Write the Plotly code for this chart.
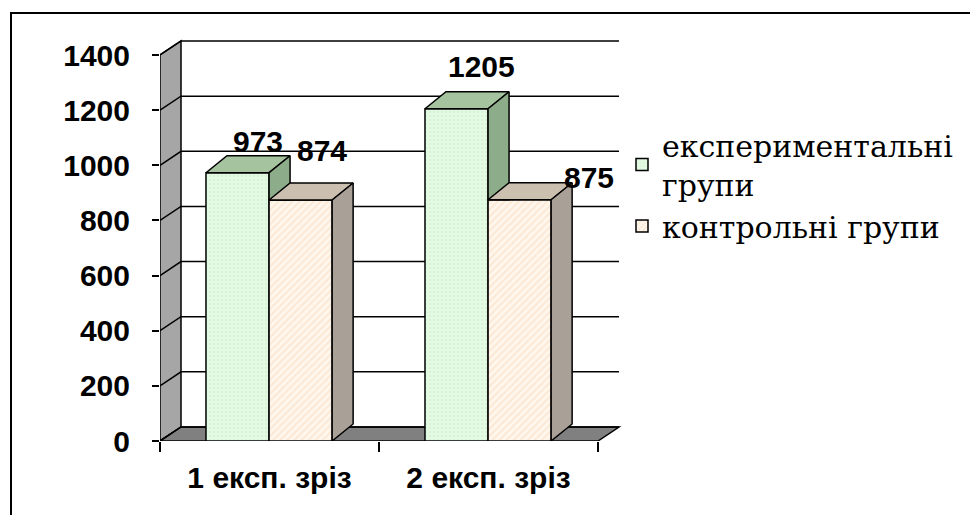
import plotly.graph_objects as go

# --- data -------------------------------------------------------------
categories = ["1 експ. зріз", "2 експ. зріз"]
series_names = ["експериментальні<br>групи", "контрольні групи"]
exp_values = [973, 1205]
ctrl_values = [874, 875]
y_ticks = [0, 200, 400, 600, 800, 1000, 1200, 1400]

# --- layout geometry (pixels) -----------------------------------------
FIG_W, FIG_H = 970, 515
PLOT_L, PLOT_R, PLOT_T, PLOT_B = 160, 630, 30, 441
CAT_PX = 219              # pixels per category slot
VAL_PX = 386 / 1400       # pixels per value unit

x_max = (PLOT_R - PLOT_L) / CAT_PX
y_max = (PLOT_B - PLOT_T) / VAL_PX

# depth of the pseudo-3D walls and bars, converted to data units
WALL_DX, WALL_DY = 21 / CAT_PX, 14 / VAL_PX
BAR_DX, BAR_DY = 21 / CAT_PX, 17 / VAL_PX

n_cat = len(categories)
centers = [i + 0.5 for i in range(n_cat)]
BAR_W = 0.288
EXP_OFF = -0.29
CTRL_OFF = EXP_OFF + BAR_W

EXP_FACE, EXP_DOTS, EXP_TOP, EXP_SIDE = "#E3FAE3", "#C9ECC9", "#A6C3A0", "#8DAC8A"
CTRL_FACE, CTRL_HATCH, CTRL_TOP, CTRL_SIDE = "#FFF6EC", "#F6D9BC", "#CBBFAF", "#A9A097"
EDGE = "black"
SANS = "Arial"
SERIF = "DejaVu Serif"


def px_to_paper_x(px):
    return (px - PLOT_L) / (PLOT_R - PLOT_L)


def px_to_paper_y(py):
    return (PLOT_B - py) / (PLOT_B - PLOT_T)


def poly_path(points):
    return "M " + " L ".join(f"{x},{y}" for x, y in points) + " Z"


fig = go.Figure()

# --- walls, floor and gridlines (beneath the bars) ----------------------
top = y_ticks[-1]
shapes = [
    dict(type="path", xref="x", yref="y", layer="below",
         path=poly_path([(0, 0), (0, top), (WALL_DX, top + WALL_DY), (WALL_DX, WALL_DY)]),
         fillcolor="#A6A6A6", line=dict(color=EDGE, width=1.5)),
    dict(type="path", xref="x", yref="y", layer="below",
         path=poly_path([(0, 0), (n_cat, 0), (n_cat + WALL_DX, WALL_DY), (WALL_DX, WALL_DY)]),
         fillcolor="#808080", line=dict(color=EDGE, width=1.5)),
]
for v in y_ticks:
    shapes.append(dict(
        type="path", xref="x", yref="y", layer="below",
        path=f"M 0,{v} L {WALL_DX},{v + WALL_DY} L {n_cat + WALL_DX},{v + WALL_DY}",
        line=dict(color=EDGE, width=1.5)))

# outer frame of the slide area
shapes.append(dict(type="rect", xref="paper", yref="paper",
                   x0=px_to_paper_x(11), x1=px_to_paper_x(FIG_W + 20),
                   y0=px_to_paper_y(FIG_H + 20), y1=px_to_paper_y(13),
                   line=dict(color=EDGE, width=2), fillcolor="rgba(0,0,0,0)"))

# --- front faces of the bars --------------------------------------------
fig.add_trace(go.Bar(
    x=centers, y=exp_values, width=BAR_W, offset=EXP_OFF, name=series_names[0],
    marker=dict(color=EXP_FACE, line=dict(color=EDGE, width=1.5),
                pattern=dict(shape=".", fgcolor=EXP_DOTS, bgcolor=EXP_FACE,
                             size=4, solidity=0.25)),
    hoverinfo="skip"))
fig.add_trace(go.Bar(
    x=centers, y=ctrl_values, width=BAR_W, offset=CTRL_OFF, name=series_names[1],
    marker=dict(color=CTRL_FACE, line=dict(color=EDGE, width=1.5),
                pattern=dict(shape="/", fgcolor=CTRL_HATCH, bgcolor=CTRL_FACE,
                             size=5, solidity=0.35)),
    hoverinfo="skip"))


def add_face(points, color):
    xs = [p[0] for p in points] + [points[0][0]]
    ys = [p[1] for p in points] + [points[0][1]]
    fig.add_trace(go.Scatter(x=xs, y=ys, mode="lines", fill="toself",
                             fillcolor=color, line=dict(color=EDGE, width=1.5),
                             showlegend=False, hoverinfo="skip"))


# --- top and side faces --------------------------------------------------
for c, ve, vc in zip(centers, exp_values, ctrl_values):
    xl = c + EXP_OFF
    xr = xl + BAR_W
    add_face([(xl, ve), (xr, ve), (xr + BAR_DX, ve + BAR_DY), (xl + BAR_DX, ve + BAR_DY)], EXP_TOP)
    # side of the front series, above the neighbouring bar that hides its lower part
    cut = max(vc, 0)
    if cut < ve + BAR_DY:
        add_face([(xr, min(cut, ve)), (xr, ve), (xr + BAR_DX, ve + BAR_DY),
                  (xr + BAR_DX, max(cut, BAR_DY))], EXP_SIDE)

    xl2 = c + CTRL_OFF
    xr2 = xl2 + BAR_W
    add_face([(xl2, vc), (xr2, vc), (xr2 + BAR_DX, vc + BAR_DY), (xl2 + BAR_DX, vc + BAR_DY)], CTRL_TOP)
    add_face([(xr2, 0), (xr2, vc), (xr2 + BAR_DX, vc + BAR_DY), (xr2 + BAR_DX, BAR_DY)], CTRL_SIDE)

# --- value labels ---------------------------------------------------------
label_shift = {  # (series, category) -> (xshift, yshift) in pixels
    (0, 0): (20, 31), (1, 0): (21, 50),
    (0, 1): (25, 42), (1, 1): (69, 22),
}
annotations = []
for s, (vals, off) in enumerate([(exp_values, EXP_OFF), (ctrl_values, CTRL_OFF)]):
    for i, v in enumerate(vals):
        dx, dy = label_shift[(s, i)]
        annotations.append(dict(
            x=centers[i] + off + BAR_W / 2, y=v, xref="x", yref="y",
            text=f"{v}", showarrow=False, xshift=dx, yshift=dy,
            xanchor="center", yanchor="middle",
            font=dict(family=SANS, size=30, color="black", weight="bold")))

fig.update_layout(
    width=FIG_W, height=FIG_H,
    margin=dict(l=PLOT_L, r=FIG_W - PLOT_R, t=PLOT_T, b=FIG_H - PLOT_B, pad=0),
    paper_bgcolor="white", plot_bgcolor="white",
    barmode="overlay",
    shapes=shapes, annotations=annotations,
    hovermode=False,
    showlegend=True,
    legend=dict(x=px_to_paper_x(622), y=px_to_paper_y(119), xanchor="left", yanchor="top",
                bgcolor="rgba(0,0,0,0)", tracegroupgap=0,
                font=dict(family=SERIF, size=30, color="black")),
    xaxis=dict(range=[0, x_max], showgrid=False, zeroline=False, showline=False,
               tickmode="array", tickvals=centers, ticktext=categories, ticks="",
               ticklabelstandoff=16,
               tickfont=dict(family=SANS, size=30, color="black", weight="bold"),
               minor=dict(tickmode="array", tickvals=list(range(n_cat + 1)),
                          ticks="outside", ticklen=10, tickwidth=1.5, tickcolor=EDGE)),
    yaxis=dict(range=[0, y_max], showgrid=False, zeroline=False, showline=False,
               tickmode="array", tickvals=y_ticks, ticks="outside", ticklen=7,
               tickwidth=1.5, tickcolor=EDGE, ticklabelstandoff=16,
               tickfont=dict(family=SANS, size=30, color="black", weight="bold")),
)

fig.write_html("out.html")
